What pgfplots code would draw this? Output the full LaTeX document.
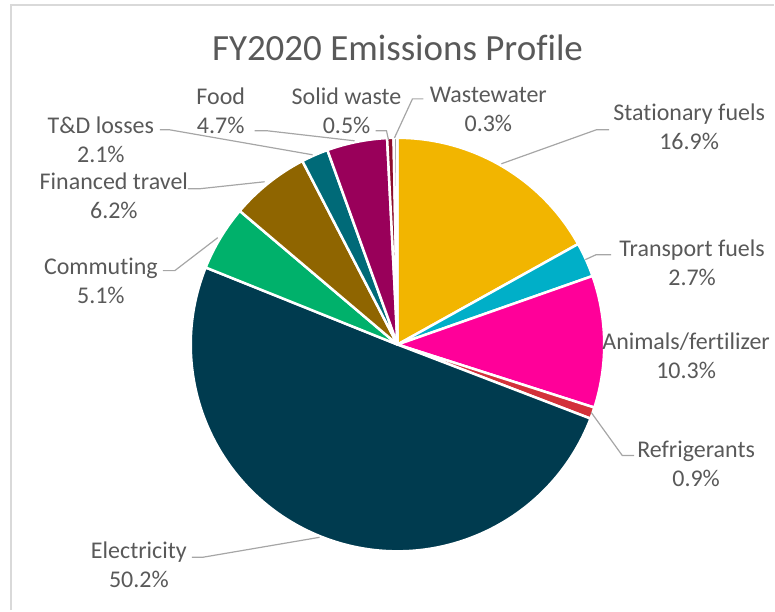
\documentclass[border=0pt]{standalone}
\usepackage{pgfplots}
\pgfplotsset{compat=1.18}
\usepackage{pgfplotstable}
\usepackage{fontspec}
\setmainfont{Carlito}[Ligatures=CommonOff]

\definecolor{cStat}{HTML}{F2B500}
\definecolor{cTrans}{HTML}{00AFC8}
\definecolor{cAnim}{HTML}{FF0099}
\definecolor{cRefr}{HTML}{D3313A}
\definecolor{cElec}{HTML}{003B4F}
\definecolor{cComm}{HTML}{00B16B}
\definecolor{cFin}{HTML}{8F6500}
\definecolor{cTD}{HTML}{006A78}
\definecolor{cFood}{HTML}{99005A}
\definecolor{cSolid}{HTML}{8E0D2C}
\definecolor{cWaste}{HTML}{A5A5A5}
\definecolor{txt}{HTML}{595959}
\definecolor{lead}{HTML}{A6A6A6}
\definecolor{frame}{HTML}{D9D9D9}

\tikzset{lbl/.style={font=\fontsize{24}{29}\selectfont, text=txt, align=center, inner sep=0pt}}

% share (%) and slice colour, clockwise from 12 o'clock
\pgfplotstableread[col sep=comma]{
value,color
16.9,cStat
2.7,cTrans
10.3,cAnim
0.9,cRefr
50.2,cElec
5.1,cComm
6.2,cFin
2.1,cTD
4.7,cFood
0.5,cSolid
0.3,cWaste
}\piedata

\begin{document}
\begin{tikzpicture}
\begin{axis}[
  x=1pt, y=1pt,
  xmin=0, xmax=775, ymin=0, ymax=611,
  axis lines=none,
  clip=false,
  disabledatascaling,
]
\path (axis cs:0,0) rectangle (axis cs:775,611);
% frame
\draw[frame, line width=2pt] (axis cs:11.5,0) -- (axis cs:11.5,605.5) -- (axis cs:775,605.5);

% slices
\def\cum{0}
\pgfplotsforeachungrouped \i in {0,...,10}{
  \pgfplotstablegetelem{\i}{value}\of\piedata \let\v\pgfplotsretval
  \pgfplotstablegetelem{\i}{color}\of\piedata \let\c\pgfplotsretval
  \pgfmathsetmacro\sa{90-\cum/99.9*360}
  \pgfmathsetmacro\cum{\cum+\v}
  \pgfmathsetmacro\ea{90-\cum/99.9*360}
  \edef\temp{\noexpand\fill[fill=\c, draw=white, line width=2.5pt, line join=round]
    (axis cs:398,266) -- ([shift={(\sa:207pt)}]axis cs:398,266)
    arc[start angle=\sa, end angle=\ea, radius=207pt] -- cycle;}
  \temp
}

% leader lines
\begin{scope}[lead, line width=1.2pt]
\draw (axis cs:502,447) -- (axis cs:597,481) -- (axis cs:610,481);
\draw (axis cs:586,351) -- (axis cs:597,356) -- (axis cs:612,356);
\draw (axis cs:592,198) -- (axis cs:623,155) -- (axis cs:635,155);
\draw (axis cs:320,73) -- (axis cs:203,53) -- (axis cs:192,53);
\draw (axis cs:218,373) -- (axis cs:175,340) -- (axis cs:163,340);
\draw (axis cs:265,429) -- (axis cs:200,422) -- (axis cs:188,422);
\draw (axis cs:313,456) -- (axis cs:170,481) -- (axis cs:160,481);
\draw (axis cs:355,470) -- (axis cs:268,480) -- (axis cs:255,480);
\draw (axis cs:389,471) -- (axis cs:387,480) -- (axis cs:376,480);
\draw (axis cs:395,473) -- (axis cs:413,512) -- (axis cs:424,512);
\end{scope}

% labels
\node[lbl] at (axis cs:690,484.5) {Stationary fuels\\16.9\%};
\node[lbl] at (axis cs:693,348) {Transport fuels\\2.7\%};
\node[lbl] at (axis cs:687,254.5) {Animals/fertilizer\\10.3\%};
\node[lbl] at (axis cs:697,147) {Refrigerants\\0.9\%};
\node[lbl] at (axis cs:139,45.5) {Electricity\\50.2\%};
\node[lbl] at (axis cs:101,329.5) {Commuting\\5.1\%};
\node[lbl] at (axis cs:114,414.5) {Financed travel\\6.2\%};
\node[lbl] at (axis cs:101,471.5) {T\&D losses\\2.1\%};
\node[lbl] at (axis cs:221,500.5) {Food\\4.7\%};
\node[lbl] at (axis cs:347,500) {Solid waste\\0.5\%};
\node[lbl] at (axis cs:489,501.5) {Wastewater\\0.3\%};

% title
\node[font=\fontsize{37}{44}\selectfont, text=txt] at (axis cs:398,563) {FY2020 Emissions Profile};
\end{axis}
\end{tikzpicture}
\end{document}
